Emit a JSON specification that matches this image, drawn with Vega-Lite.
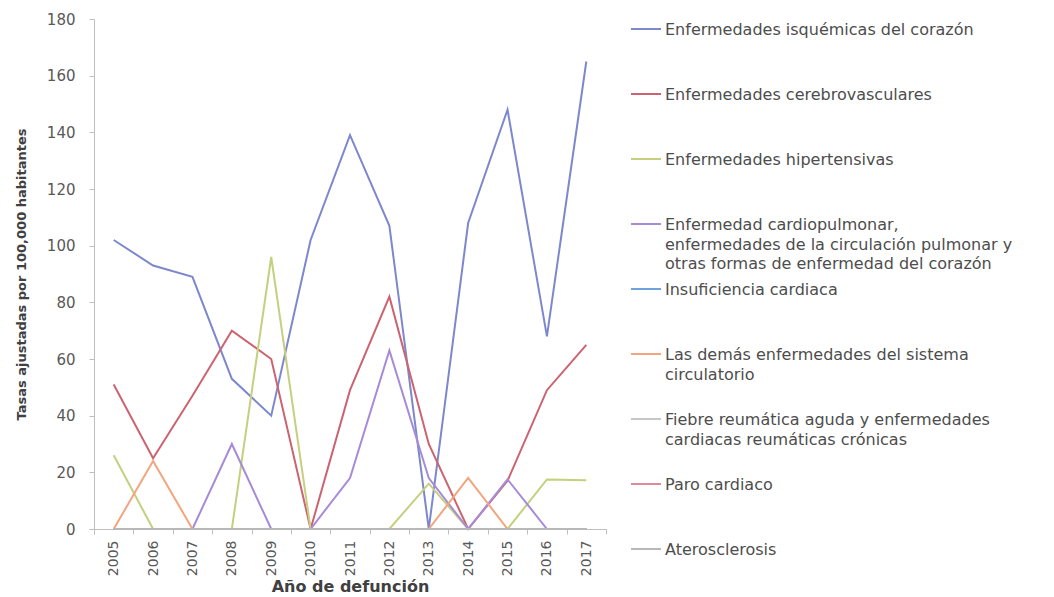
{
  "$schema": "https://vega.github.io/schema/vega-lite/v6.json",
  "width": 512,
  "height": 510,
  "autosize": {"type": "none"},
  "padding": {"left": 94, "top": 19, "right": 448, "bottom": 68},
  "background": "white",
  "data": {"values": [
    {"anio": "2005", "serie": "Enfermedades isquémicas del corazón", "tasa": 102},
    {"anio": "2006", "serie": "Enfermedades isquémicas del corazón", "tasa": 93},
    {"anio": "2007", "serie": "Enfermedades isquémicas del corazón", "tasa": 89},
    {"anio": "2008", "serie": "Enfermedades isquémicas del corazón", "tasa": 53},
    {"anio": "2009", "serie": "Enfermedades isquémicas del corazón", "tasa": 40},
    {"anio": "2010", "serie": "Enfermedades isquémicas del corazón", "tasa": 102},
    {"anio": "2011", "serie": "Enfermedades isquémicas del corazón", "tasa": 139},
    {"anio": "2012", "serie": "Enfermedades isquémicas del corazón", "tasa": 107},
    {"anio": "2013", "serie": "Enfermedades isquémicas del corazón", "tasa": 0},
    {"anio": "2014", "serie": "Enfermedades isquémicas del corazón", "tasa": 108},
    {"anio": "2015", "serie": "Enfermedades isquémicas del corazón", "tasa": 148},
    {"anio": "2016", "serie": "Enfermedades isquémicas del corazón", "tasa": 68},
    {"anio": "2017", "serie": "Enfermedades isquémicas del corazón", "tasa": 165},
    {"anio": "2005", "serie": "Enfermedades cerebrovasculares", "tasa": 51},
    {"anio": "2006", "serie": "Enfermedades cerebrovasculares", "tasa": 25},
    {"anio": "2007", "serie": "Enfermedades cerebrovasculares", "tasa": 47},
    {"anio": "2008", "serie": "Enfermedades cerebrovasculares", "tasa": 70},
    {"anio": "2009", "serie": "Enfermedades cerebrovasculares", "tasa": 60},
    {"anio": "2010", "serie": "Enfermedades cerebrovasculares", "tasa": 0},
    {"anio": "2011", "serie": "Enfermedades cerebrovasculares", "tasa": 49},
    {"anio": "2012", "serie": "Enfermedades cerebrovasculares", "tasa": 82},
    {"anio": "2013", "serie": "Enfermedades cerebrovasculares", "tasa": 30},
    {"anio": "2014", "serie": "Enfermedades cerebrovasculares", "tasa": 0},
    {"anio": "2015", "serie": "Enfermedades cerebrovasculares", "tasa": 17},
    {"anio": "2016", "serie": "Enfermedades cerebrovasculares", "tasa": 49},
    {"anio": "2017", "serie": "Enfermedades cerebrovasculares", "tasa": 65},
    {"anio": "2005", "serie": "Enfermedades hipertensivas", "tasa": 26},
    {"anio": "2006", "serie": "Enfermedades hipertensivas", "tasa": 0},
    {"anio": "2007", "serie": "Enfermedades hipertensivas", "tasa": 0},
    {"anio": "2008", "serie": "Enfermedades hipertensivas", "tasa": 0},
    {"anio": "2009", "serie": "Enfermedades hipertensivas", "tasa": 96},
    {"anio": "2010", "serie": "Enfermedades hipertensivas", "tasa": 0},
    {"anio": "2011", "serie": "Enfermedades hipertensivas", "tasa": 0},
    {"anio": "2012", "serie": "Enfermedades hipertensivas", "tasa": 0},
    {"anio": "2013", "serie": "Enfermedades hipertensivas", "tasa": 16},
    {"anio": "2014", "serie": "Enfermedades hipertensivas", "tasa": 0},
    {"anio": "2015", "serie": "Enfermedades hipertensivas", "tasa": 0},
    {"anio": "2016", "serie": "Enfermedades hipertensivas", "tasa": 17.5},
    {"anio": "2017", "serie": "Enfermedades hipertensivas", "tasa": 17.2},
    {"anio": "2005", "serie": "Enfermedad cardiopulmonar, enfermedades de la circulación pulmonar y otras formas de enfermedad del corazón", "tasa": 0},
    {"anio": "2006", "serie": "Enfermedad cardiopulmonar, enfermedades de la circulación pulmonar y otras formas de enfermedad del corazón", "tasa": 0},
    {"anio": "2007", "serie": "Enfermedad cardiopulmonar, enfermedades de la circulación pulmonar y otras formas de enfermedad del corazón", "tasa": 0},
    {"anio": "2008", "serie": "Enfermedad cardiopulmonar, enfermedades de la circulación pulmonar y otras formas de enfermedad del corazón", "tasa": 30},
    {"anio": "2009", "serie": "Enfermedad cardiopulmonar, enfermedades de la circulación pulmonar y otras formas de enfermedad del corazón", "tasa": 0},
    {"anio": "2010", "serie": "Enfermedad cardiopulmonar, enfermedades de la circulación pulmonar y otras formas de enfermedad del corazón", "tasa": 0},
    {"anio": "2011", "serie": "Enfermedad cardiopulmonar, enfermedades de la circulación pulmonar y otras formas de enfermedad del corazón", "tasa": 18},
    {"anio": "2012", "serie": "Enfermedad cardiopulmonar, enfermedades de la circulación pulmonar y otras formas de enfermedad del corazón", "tasa": 63},
    {"anio": "2013", "serie": "Enfermedad cardiopulmonar, enfermedades de la circulación pulmonar y otras formas de enfermedad del corazón", "tasa": 18},
    {"anio": "2014", "serie": "Enfermedad cardiopulmonar, enfermedades de la circulación pulmonar y otras formas de enfermedad del corazón", "tasa": 0},
    {"anio": "2015", "serie": "Enfermedad cardiopulmonar, enfermedades de la circulación pulmonar y otras formas de enfermedad del corazón", "tasa": 17.5},
    {"anio": "2016", "serie": "Enfermedad cardiopulmonar, enfermedades de la circulación pulmonar y otras formas de enfermedad del corazón", "tasa": 0},
    {"anio": "2017", "serie": "Enfermedad cardiopulmonar, enfermedades de la circulación pulmonar y otras formas de enfermedad del corazón", "tasa": 0},
    {"anio": "2005", "serie": "Insuficiencia cardiaca", "tasa": 0},
    {"anio": "2006", "serie": "Insuficiencia cardiaca", "tasa": 0},
    {"anio": "2007", "serie": "Insuficiencia cardiaca", "tasa": 0},
    {"anio": "2008", "serie": "Insuficiencia cardiaca", "tasa": 0},
    {"anio": "2009", "serie": "Insuficiencia cardiaca", "tasa": 0},
    {"anio": "2010", "serie": "Insuficiencia cardiaca", "tasa": 0},
    {"anio": "2011", "serie": "Insuficiencia cardiaca", "tasa": 0},
    {"anio": "2012", "serie": "Insuficiencia cardiaca", "tasa": 0},
    {"anio": "2013", "serie": "Insuficiencia cardiaca", "tasa": 0},
    {"anio": "2014", "serie": "Insuficiencia cardiaca", "tasa": 0},
    {"anio": "2015", "serie": "Insuficiencia cardiaca", "tasa": 0},
    {"anio": "2016", "serie": "Insuficiencia cardiaca", "tasa": 0},
    {"anio": "2017", "serie": "Insuficiencia cardiaca", "tasa": 0},
    {"anio": "2005", "serie": "Las demás enfermedades del sistema circulatorio", "tasa": 0},
    {"anio": "2006", "serie": "Las demás enfermedades del sistema circulatorio", "tasa": 24},
    {"anio": "2007", "serie": "Las demás enfermedades del sistema circulatorio", "tasa": 0},
    {"anio": "2008", "serie": "Las demás enfermedades del sistema circulatorio", "tasa": 0},
    {"anio": "2009", "serie": "Las demás enfermedades del sistema circulatorio", "tasa": 0},
    {"anio": "2010", "serie": "Las demás enfermedades del sistema circulatorio", "tasa": 0},
    {"anio": "2011", "serie": "Las demás enfermedades del sistema circulatorio", "tasa": 0},
    {"anio": "2012", "serie": "Las demás enfermedades del sistema circulatorio", "tasa": 0},
    {"anio": "2013", "serie": "Las demás enfermedades del sistema circulatorio", "tasa": 0},
    {"anio": "2014", "serie": "Las demás enfermedades del sistema circulatorio", "tasa": 18},
    {"anio": "2015", "serie": "Las demás enfermedades del sistema circulatorio", "tasa": 0},
    {"anio": "2016", "serie": "Las demás enfermedades del sistema circulatorio", "tasa": 0},
    {"anio": "2017", "serie": "Las demás enfermedades del sistema circulatorio", "tasa": 0},
    {"anio": "2005", "serie": "Fiebre reumática aguda y enfermedades cardiacas reumáticas crónicas", "tasa": 0},
    {"anio": "2006", "serie": "Fiebre reumática aguda y enfermedades cardiacas reumáticas crónicas", "tasa": 0},
    {"anio": "2007", "serie": "Fiebre reumática aguda y enfermedades cardiacas reumáticas crónicas", "tasa": 0},
    {"anio": "2008", "serie": "Fiebre reumática aguda y enfermedades cardiacas reumáticas crónicas", "tasa": 0},
    {"anio": "2009", "serie": "Fiebre reumática aguda y enfermedades cardiacas reumáticas crónicas", "tasa": 0},
    {"anio": "2010", "serie": "Fiebre reumática aguda y enfermedades cardiacas reumáticas crónicas", "tasa": 0},
    {"anio": "2011", "serie": "Fiebre reumática aguda y enfermedades cardiacas reumáticas crónicas", "tasa": 0},
    {"anio": "2012", "serie": "Fiebre reumática aguda y enfermedades cardiacas reumáticas crónicas", "tasa": 0},
    {"anio": "2013", "serie": "Fiebre reumática aguda y enfermedades cardiacas reumáticas crónicas", "tasa": 0},
    {"anio": "2014", "serie": "Fiebre reumática aguda y enfermedades cardiacas reumáticas crónicas", "tasa": 0},
    {"anio": "2015", "serie": "Fiebre reumática aguda y enfermedades cardiacas reumáticas crónicas", "tasa": 0},
    {"anio": "2016", "serie": "Fiebre reumática aguda y enfermedades cardiacas reumáticas crónicas", "tasa": 0},
    {"anio": "2017", "serie": "Fiebre reumática aguda y enfermedades cardiacas reumáticas crónicas", "tasa": 0},
    {"anio": "2005", "serie": "Paro cardiaco", "tasa": 0},
    {"anio": "2006", "serie": "Paro cardiaco", "tasa": 0},
    {"anio": "2007", "serie": "Paro cardiaco", "tasa": 0},
    {"anio": "2008", "serie": "Paro cardiaco", "tasa": 0},
    {"anio": "2009", "serie": "Paro cardiaco", "tasa": 0},
    {"anio": "2010", "serie": "Paro cardiaco", "tasa": 0},
    {"anio": "2011", "serie": "Paro cardiaco", "tasa": 0},
    {"anio": "2012", "serie": "Paro cardiaco", "tasa": 0},
    {"anio": "2013", "serie": "Paro cardiaco", "tasa": 0},
    {"anio": "2014", "serie": "Paro cardiaco", "tasa": 0},
    {"anio": "2015", "serie": "Paro cardiaco", "tasa": 0},
    {"anio": "2016", "serie": "Paro cardiaco", "tasa": 0},
    {"anio": "2017", "serie": "Paro cardiaco", "tasa": 0},
    {"anio": "2005", "serie": "Aterosclerosis", "tasa": 0},
    {"anio": "2006", "serie": "Aterosclerosis", "tasa": 0},
    {"anio": "2007", "serie": "Aterosclerosis", "tasa": 0},
    {"anio": "2008", "serie": "Aterosclerosis", "tasa": 0},
    {"anio": "2009", "serie": "Aterosclerosis", "tasa": 0},
    {"anio": "2010", "serie": "Aterosclerosis", "tasa": 0},
    {"anio": "2011", "serie": "Aterosclerosis", "tasa": 0},
    {"anio": "2012", "serie": "Aterosclerosis", "tasa": 0},
    {"anio": "2013", "serie": "Aterosclerosis", "tasa": 0},
    {"anio": "2014", "serie": "Aterosclerosis", "tasa": 0},
    {"anio": "2015", "serie": "Aterosclerosis", "tasa": 0},
    {"anio": "2016", "serie": "Aterosclerosis", "tasa": 0},
    {"anio": "2017", "serie": "Aterosclerosis", "tasa": 0}
  ]},
  "mark": {"type": "line", "strokeWidth": 2},
  "encoding": {
    "x": {
      "field": "anio",
      "type": "ordinal",
      "bandPosition": 0.5,
      "scale": {"type": "band", "paddingInner": 0, "paddingOuter": 0},
      "axis": {
        "title": "Año de defunción",
        "labelAngle": -90,
        "tickBand": "extent",
        "labelFont": "DejaVu Sans",
        "labelFontSize": 14,
        "labelColor": "#595959",
        "labelPadding": 6,
        "tickSize": 5,
        "tickColor": "#bfbfbf",
        "domainColor": "#bfbfbf",
        "titleFont": "DejaVu Sans",
        "titleFontSize": 16,
        "titleFontWeight": "bold",
        "titleColor": "#404040",
        "titlePadding": 3
      }
    },
    "y": {
      "field": "tasa",
      "type": "quantitative",
      "scale": {"domain": [0, 180], "nice": false},
      "axis": {
        "title": "Tasas ajustadas por 100,000 habitantes",
        "values": [0, 20, 40, 60, 80, 100, 120, 140, 160, 180],
        "grid": false,
        "labelFont": "DejaVu Sans",
        "labelFontSize": 15,
        "labelColor": "#595959",
        "labelPadding": 14,
        "tickSize": 5,
        "tickColor": "#bfbfbf",
        "domainColor": "#bfbfbf",
        "titleFont": "DejaVu Sans",
        "titleFontSize": 13,
        "titleFontWeight": "bold",
        "titleColor": "#404040",
        "titlePadding": 18
      }
    },
    "color": {
      "field": "serie",
      "type": "nominal",
      "scale": {
        "domain": [
          "Enfermedades isquémicas del corazón",
          "Enfermedades cerebrovasculares",
          "Enfermedades hipertensivas",
          "Enfermedad cardiopulmonar, enfermedades de la circulación pulmonar y otras formas de enfermedad del corazón",
          "Insuficiencia cardiaca",
          "Las demás enfermedades del sistema circulatorio",
          "Fiebre reumática aguda y enfermedades cardiacas reumáticas crónicas",
          "Paro cardiaco",
          "Aterosclerosis"
        ],
        "range": ["#7d88cc", "#cc6370", "#c5cf7e", "#a68bd6", "#6fa3dc", "#f2a57e", "#c6c6c6", "#e0899a", "#b8b8b8"]
      },
      "legend": {
        "title": null,
        "orient": "none",
        "legendX": 536,
        "legendY": -6,
        "padding": 0,
        "symbolType": "stroke",
        "symbolSize": 900,
        "symbolStrokeWidth": 2,
        "labelFont": "DejaVu Sans",
        "labelFontSize": 16,
        "labelColor": "#4d4d4d",
        "labelLimit": 600,
        "labelOffset": 3,
        "labelBaseline": "top",
        "rowPadding": 0,
        "labelExpr": "indexof(datum.label,'cardiopulmonar')>=0 ? ['Enfermedad cardiopulmonar,','enfermedades de la circulación pulmonar y','otras formas de enfermedad del corazón'] : indexof(datum.label,'Las demás')>=0 ? ['Las demás enfermedades del sistema','circulatorio',''] : indexof(datum.label,'Fiebre')>=0 ? ['Fiebre reumática aguda y enfermedades','cardiacas reumáticas crónicas',''] : [datum.label,'','']",
        "encode": {"labels": {"update": {"dy": {"value": -7}, "lineHeight": {"value": 19.7}}}}
      }
    }
  },
  "config": {"view": {"stroke": null}}
}
